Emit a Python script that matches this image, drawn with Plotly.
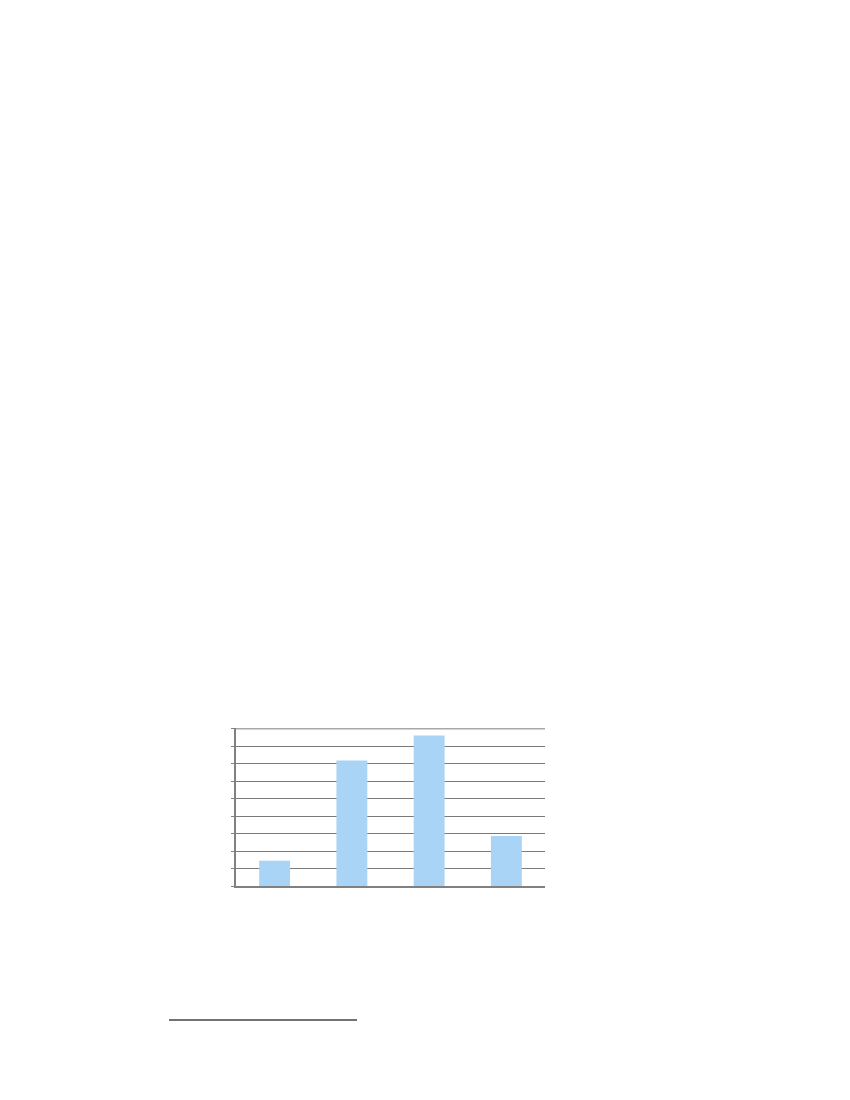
import plotly.graph_objects as go

categories = ["A", "B", "C", "D"]
values = [1.45, 7.18, 8.61, 2.86]
y_ticks = [0, 1, 2, 3, 4, 5, 6, 7, 8, 9]

fig = go.Figure()
fig.add_trace(go.Bar(
    x=categories, y=values,
    marker=dict(color="#a9d4f5", line=dict(width=0)),
))

OFF = 8  # page body margin
L, R, T, B = 236 - OFF, 545 - OFF, 728 - OFF, 886 - OFF
pw, ph = R - L, B - T

def px_x(x):
    return (x - OFF - L) / pw

def px_y(y):
    return (B - (y - OFF)) / ph

fig.update_layout(
    width=850, height=1100,
    margin=dict(l=L, r=850 - R, t=T, b=1100 - B, pad=0),
    paper_bgcolor="white", plot_bgcolor="white",
    showlegend=False,
    bargap=0.6,
    xaxis=dict(showticklabels=False, showgrid=False, zeroline=False,
               showline=True, linecolor="#808080", linewidth=1.5, ticks=""),
    yaxis=dict(range=[0, 9.04], tickvals=y_ticks, showticklabels=False,
               showgrid=True, gridcolor="#7a7a7a", gridwidth=1.3,
               zeroline=False, showline=True, linecolor="#808080", linewidth=1.5,
               ticks="outside", ticklen=3, tickcolor="#808080", tickwidth=1),
    shapes=[
        dict(type="line", xref="x domain", yref="y",
             x0=0, x1=1, y0=y_ticks[-1], y1=y_ticks[-1],
             line=dict(color="#a8a8a8", width=1.5), layer="below"),
        dict(type="line", xref="paper", yref="paper",
             x0=px_x(169), x1=px_x(357), y0=px_y(1020), y1=px_y(1020),
             line=dict(color="#444444", width=1.3)),
    ],
)

fig.write_html("out.html")
